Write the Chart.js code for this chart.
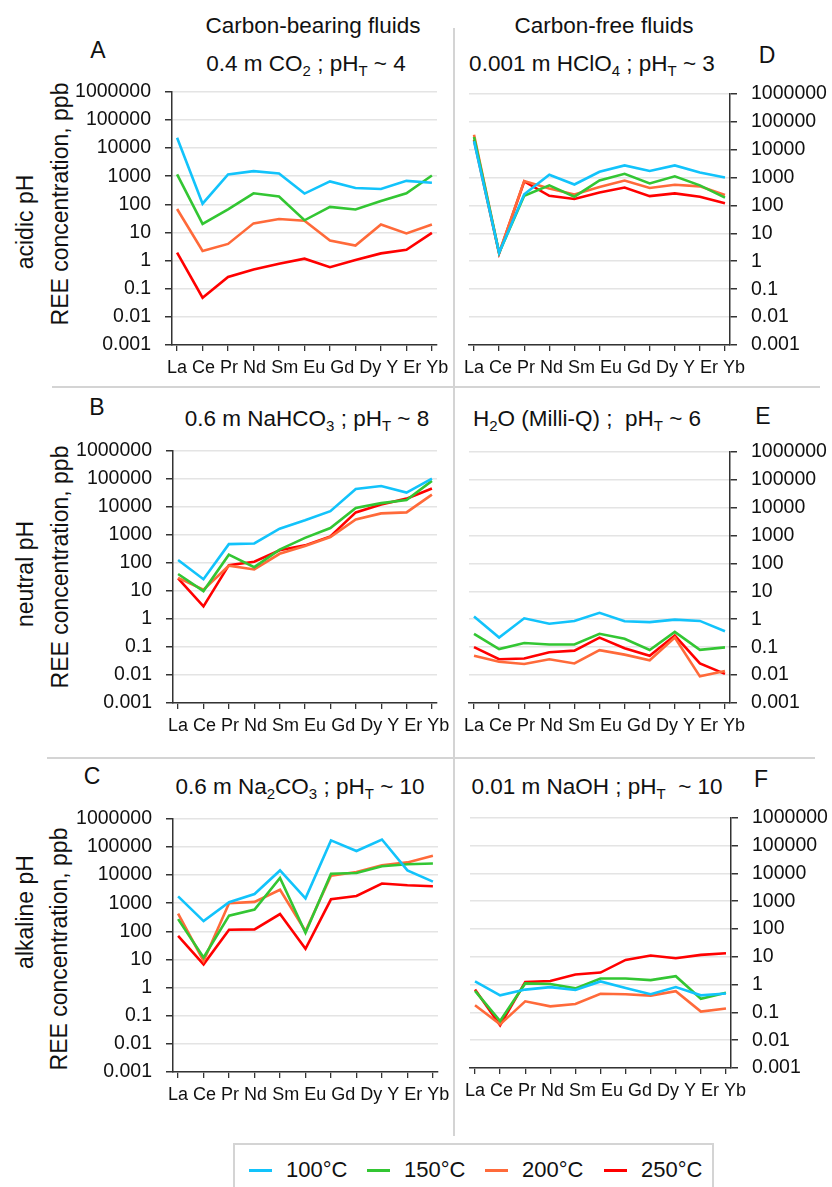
<!DOCTYPE html>
<html>
<head>
<meta charset="utf-8">
<script src="https://cdn.jsdelivr.net/npm/chart.js@4.4.1/dist/chart.umd.min.js"></script>
<style>
  body { margin: 0; background: #fff; }
  #page { position: relative; width: 832px; height: 1187px; font-family: "Liberation Sans", Arial, sans-serif; color: #111; overflow: hidden; }
  .txt { position: absolute; white-space: nowrap; transform: translate(-50%, -50%); }
  .big { font-size: 22.5px; }
  .rot { transform: translate(-50%, -50%) rotate(-90deg); font-size: 23px; }
  .letter { font-size: 23px; }
  sub { font-size: 15px; vertical-align: -5px; line-height: 0; }
  .sep { position: absolute; background: #d4d4d4; }
  .panel { position: absolute; }
  #legend { position: absolute; left: 233px; top: 1143px; width: 481px; height: 60px; border: 2px solid #d4d4d4; box-sizing: border-box; }
  .lg { position: absolute; top: 12px; font-size: 22px; }
  .lg span { display: inline-block; width: 23px; height: 3px; vertical-align: middle; margin-right: 14px; position: relative; top: -1px; }
</style>
</head>
<body>
<div id="page">
  <div class="sep" style="left:453px; top:28px; width:2px; height:1108px;"></div>
  <div class="sep" style="left:52px; top:386px; width:768px; height:2px;"></div>
  <div class="sep" style="left:47px; top:757px; width:768px; height:2px;"></div>

  <div class="txt big" style="left:313px; top:26px;">Carbon-bearing fluids</div>
  <div class="txt big" style="left:604px; top:26px;">Carbon-free fluids</div>

  <div class="txt letter" style="left:98px; top:50px;">A</div>
  <div class="txt big" style="left:306px; top:64px;">0.4 m CO<sub>2</sub> ; pH<sub>T</sub> ~ 4</div>
  <div class="txt letter" style="left:767px; top:55px;">D</div>
  <div class="txt big" style="left:592px; top:64px;">0.001 m HClO<sub>4</sub> ; pH<sub>T</sub> ~ 3</div>
  <div class="txt rot" style="left:25px; top:222px;">acidic pH</div>
  <div class="txt rot" style="left:60px; top:204px;">REE concentration, ppb</div>

  <div class="txt letter" style="left:97px; top:407px;">B</div>
  <div class="txt big" style="left:307px; top:419px;">0.6 m NaHCO<sub>3</sub> ; pH<sub>T</sub> ~ 8</div>
  <div class="txt letter" style="left:763px; top:416px;">E</div>
  <div class="txt big" style="left:587px; top:419px;">H<sub>2</sub>O (Milli-Q) ;&nbsp; pH<sub>T</sub> ~ 6</div>
  <div class="txt rot" style="left:25px; top:574px;">neutral pH</div>
  <div class="txt rot" style="left:60px; top:567px;">REE concentration, ppb</div>

  <div class="txt letter" style="left:92px; top:776px;">C</div>
  <div class="txt big" style="left:300px; top:787px;">0.6 m Na<sub>2</sub>CO<sub>3</sub> ; pH<sub>T</sub> ~ 10</div>
  <div class="txt letter" style="left:761px; top:779px;">F</div>
  <div class="txt big" style="left:597px; top:787px;">0.01 m NaOH ; pH<sub>T</sub>&nbsp; ~ 10</div>
  <div class="txt rot" style="left:25px; top:912px;">alkaline pH</div>
  <div class="txt rot" style="left:59px; top:949px;">REE concentration, ppb</div>

  <div id="legend"></div>
</div>

<script>
// REE on the x axis
const elements = ['La', 'Ce', 'Pr', 'Nd', 'Sm', 'Eu', 'Gd', 'Dy', 'Y', 'Er', 'Yb'];
const yTicks = [0.001, 0.01, 0.1, 1, 10, 100, 1000, 10000, 100000, 1000000];
const yTickLabels = ['0.001', '0.01', '0.1', '1', '10', '100', '1000', '10000', '100000', '1000000'];
const seriesNames = ['100°C', '150°C', '200°C', '250°C'];
const seriesColors = ['#12c3fb', '#33c633', '#ff6a3a', '#ff0000'];

// ppb, one row per temperature (100, 150, 200, 250 °C)
const co2Acidic = [
  [23000, 105, 1150, 1500, 1250, 240, 650, 380, 350, 680, 580],
  [1150, 20, 66, 245, 190, 27, 81, 65, 130, 245, 1050],
  [68, 2.2, 3.9, 21, 30, 26, 5.2, 3.4, 19, 9.2, 19],
  [1.9, 0.048, 0.26, 0.48, 0.77, 1.17, 0.58, 1.05, 1.8, 2.4, 9.6]
];
const hclo4Acidic = [
  [20000, 2.0, 250, 1250, 560, 1600, 2700, 1700, 2700, 1500, 1000],
  [28000, 2.0, 220, 520, 205, 780, 1350, 610, 1100, 520, 190],
  [34000, 2.0, 740, 400, 245, 460, 780, 420, 550, 480, 235],
  [22000, 1.9, 720, 220, 170, 290, 435, 215, 270, 205, 120]
];
const nahco3Neutral = [
  [127, 26, 465, 490, 1650, 3300, 7000, 43000, 55000, 32000, 100000],
  [40, 9.8, 195, 70, 295, 780, 1750, 9000, 13500, 17500, 84000],
  [29, 11, 79, 58, 210, 400, 830, 3500, 5800, 6300, 27000],
  [28, 2.8, 83, 110, 280, 420, 880, 6300, 12000, 19500, 45000]
];
const waterNeutral = [
  [1.26, 0.22, 1.08, 0.69, 0.87, 1.7, 0.85, 0.79, 0.97, 0.87, 0.37],
  [0.30, 0.085, 0.14, 0.125, 0.125, 0.30, 0.2, 0.079, 0.35, 0.08, 0.098],
  [0.049, 0.030, 0.025, 0.037, 0.026, 0.078, 0.054, 0.034, 0.22, 0.009, 0.014],
  [0.10, 0.037, 0.039, 0.066, 0.075, 0.22, 0.091, 0.049, 0.26, 0.026, 0.011]
];
const na2co3Alkaline = [
  [1730, 230, 1080, 2100, 14500, 1480, 170000, 71000, 182000, 14500, 5800],
  [270, 11.7, 360, 590, 7900, 88, 11000, 11800, 20500, 24000, 25500],
  [420, 8.8, 1000, 1110, 3000, 100, 9500, 12700, 22300, 28000, 48000],
  [69, 6.7, 114, 117, 410, 24, 1370, 1790, 5000, 4300, 4000]
];
const naohAlkaline = [
  [1.3, 0.41, 0.66, 0.81, 0.64, 1.3, 0.75, 0.45, 0.81, 0.41, 0.48],
  [0.59, 0.049, 1.1, 1.05, 0.73, 1.65, 1.65, 1.45, 2.0, 0.31, 0.51],
  [0.18, 0.037, 0.25, 0.165, 0.2, 0.47, 0.45, 0.40, 0.58, 0.107, 0.137],
  [0.66, 0.034, 1.24, 1.34, 2.3, 2.7, 7.7, 11.1, 8.8, 11.7, 13.4]
];

const YW = 105, XH = 40, PAD = 15;
const FONT = '"Liberation Sans", Arial';
const page = document.getElementById('page');

// the element names sit under the axis as one run of text, like the original
const elementRow = {
  id: 'elementRow',
  afterDraw(chart) {
    const xs = chart.scales.x, ctx = chart.ctx;
    ctx.save();
    ctx.font = '18px ' + FONT;
    ctx.fillStyle = '#111';
    ctx.textBaseline = 'middle';
    const x0 = xs.getPixelForValue(0) - ctx.measureText(elements[0]).width / 2;
    ctx.fillText(elements.join(' '), x0, xs.top + 23);
    ctx.restore();
  }
};

function makePanel(rows, area, side) {
  // area = plot area in page pixels
  const w = area.right - area.left, h = area.bottom - area.top;
  const div = document.createElement('div');
  div.className = 'panel';
  const left = side === 'left' ? area.left - YW : area.left - PAD;
  div.style.left = left + 'px';
  div.style.top = (area.top - PAD) + 'px';
  div.style.width = (w + YW + PAD) + 'px';
  div.style.height = (h + PAD + XH) + 'px';
  const cv = document.createElement('canvas');
  div.appendChild(cv);
  page.appendChild(div);

  new Chart(cv.getContext('2d'), {
    type: 'line',
    data: {
      datasets: rows.map((vals, k) => ({
        label: seriesNames[k],
        data: vals.map((v, i) => ({ x: i, y: v })),
        borderColor: seriesColors[k],
        backgroundColor: seriesColors[k],
        borderWidth: 2.6,
        pointRadius: 0,
        tension: 0
      }))
    },
    plugins: [elementRow],
    options: {
      responsive: true,
      maintainAspectRatio: false,
      animation: false,
      layout: { padding: side === 'left' ? { top: PAD, right: PAD } : { top: PAD, left: PAD } },
      plugins: { legend: { display: false }, tooltip: { enabled: false } },
      scales: {
        x: {
          type: 'linear',
          min: -0.2,
          max: 10.2,
          afterBuildTicks: s => { s.ticks = elements.map((e, i) => ({ value: i })); },
          afterFit: s => { s.height = XH; },
          grid: { drawOnChartArea: false, drawTicks: true, tickLength: 6, tickColor: '#333', lineWidth: 1.3 },
          border: { color: '#333', width: 1.5 },
          ticks: { display: false }
        },
        y: {
          type: 'logarithmic',
          position: side,
          min: 0.001,
          max: 1000000,
          afterBuildTicks: s => { s.ticks = yTicks.map(v => ({ value: v })); },
          afterFit: s => { s.width = YW; },
          grid: { color: '#e4e4e4', lineWidth: 1.5, tickLength: 7, tickColor: '#333' },
          border: { color: '#333', width: 1.5 },
          ticks: {
            padding: 14, color: '#111',
            font: { family: FONT, size: 19.5 },
            callback: (v, i) => yTickLabels[i]
          }
        }
      }
    }
  });
}

makePanel(co2Acidic, { left: 172, right: 437, top: 81, bottom: 345 }, 'left');
makePanel(hclo4Acidic, { left: 469, right: 730, top: 83, bottom: 345 }, 'right');
makePanel(nahco3Neutral, { left: 173, right: 437, top: 440, bottom: 703 }, 'left');
makePanel(waterNeutral, { left: 469, right: 730, top: 441, bottom: 703 }, 'right');
makePanel(na2co3Alkaline, { left: 173, right: 438, top: 808, bottom: 1072 }, 'left');
makePanel(naohAlkaline, { left: 470, right: 731, top: 807, bottom: 1068 }, 'right');

// legend
const lg = document.getElementById('legend');
const lgX = [14, 132, 250, 369];
seriesNames.forEach((n, k) => {
  const d = document.createElement('div');
  d.className = 'lg';
  d.style.left = lgX[k] + 'px';
  d.innerHTML = '<span style="background:' + seriesColors[k] + '"></span>' + n;
  lg.appendChild(d);
});
</script>
</body>
</html>
